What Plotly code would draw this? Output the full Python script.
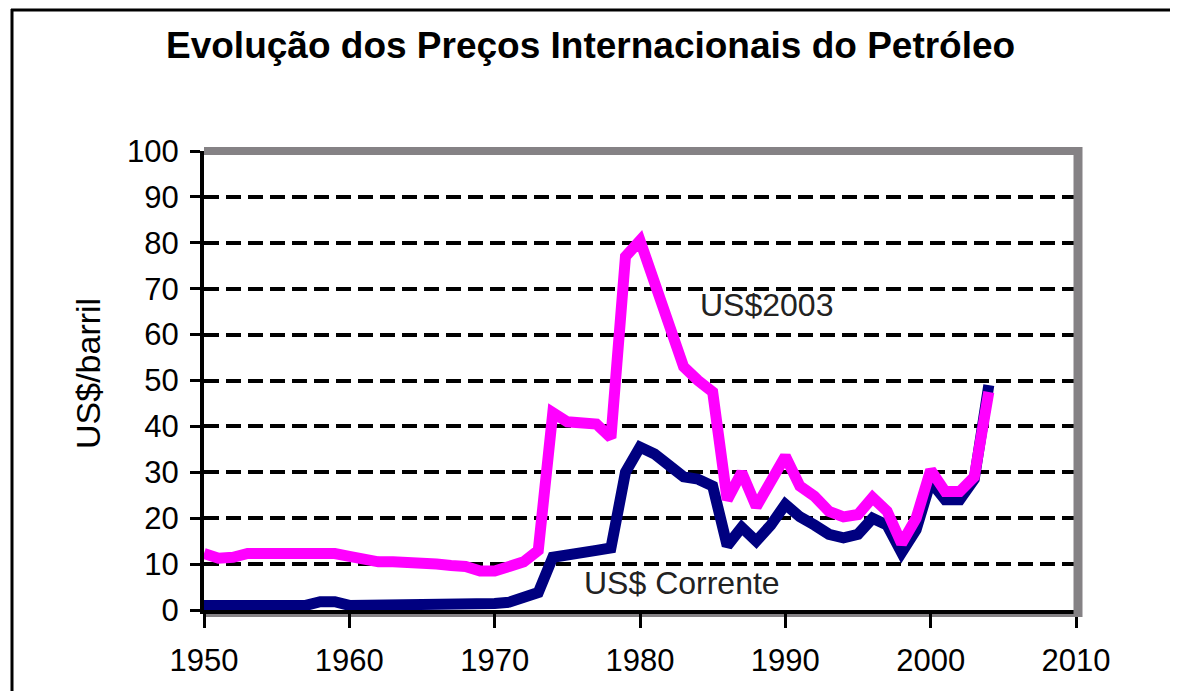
import plotly.graph_objects as go

years = list(range(1950, 2005))

# US$ correntes (nominal)
corrente = [1.0, 1.0, 1.0, 1.0, 1.0, 1.0, 1.0, 1.0, 1.8, 1.8,
            1.0, 1.0, 1.0, 1.0, 1.0, 1.0, 1.0, 1.0, 1.0, 1.0,
            1.4, 1.7, 2.5, 3.8, 11.5, 11.8, 12.5, 13.0, 13.5, 30.0,
            35.5, 34.0, 31.5, 29.0, 28.5, 27.0, 14.0, 18.0, 15.0, 18.5,
            23.0, 20.3, 18.5, 16.5, 15.7, 16.5, 20.0, 18.5, 12.5, 17.5,
            28.0, 24.0, 24.0, 28.5, 49.0]

# US$ de 2003 (real)
real2003 = [12.3, 11.3, 11.5, 12.3, 12.3, 12.3, 12.0, 12.0, 12.5, 12.3,
            11.7, 10.8, 10.5, 10.5, 10.5, 10.3, 10.0, 9.7, 9.5, 8.5,
            8.5, 9.5, 10.5, 13.0, 43.0, 41.0, 40.5, 40.5, 37.5, 77.0,
            80.5, 71.0, 62.0, 53.0, 50.0, 47.5, 24.0, 30.0, 22.5, 28.0,
            33.5, 27.0, 24.8, 21.5, 20.3, 20.8, 24.5, 21.5, 14.5, 20.0,
            30.5, 25.8, 25.8, 29.0, 47.5]

x_ticks = [1950, 1960, 1970, 1980, 1990, 2000, 2010]
y_ticks = list(range(0, 101, 10))

title_text = "Evolução dos Preços Internacionais do Petróleo"
y_title = "US$/barril"
label_real = "US$2003"
label_corrente = "US$ Corrente"

FONT = "Liberation Sans, Arial, sans-serif"

fig = go.Figure()
fig.add_trace(go.Scatter(x=years, y=corrente, mode="lines",
                         line=dict(color="#000080", width=11),
                         name=label_corrente, showlegend=False))
fig.add_trace(go.Scatter(x=years, y=real2003, mode="lines",
                         line=dict(color="#FF00FF", width=11),
                         name=label_real, showlegend=False))

# page has an 8px body margin, so the figure is 8px smaller and offset
fig.update_layout(
    width=1170, height=683,
    margin=dict(l=196, r=102, t=143, b=81),
    paper_bgcolor="white", plot_bgcolor="white",
    font=dict(family=FONT, color="black"),
    showlegend=False,
)

fig.update_xaxes(
    range=[1950, 2010], tickvals=x_ticks, ticktext=[str(v) for v in x_ticks],
    showgrid=False, zeroline=False,
    showline=True, linecolor="black", linewidth=4,
    ticks="outside", ticklen=14, tickwidth=3, tickcolor="black",
    tickfont=dict(size=31, family=FONT, color="black"),
    ticklabelstandoff=6,
)
fig.update_yaxes(
    range=[0, 100], tickvals=y_ticks, ticktext=[str(v) for v in y_ticks],
    showgrid=True, gridcolor="black", gridwidth=3.5, griddash="15px,7px",
    zeroline=False,
    showline=True, linecolor="black", linewidth=4,
    ticks="outside", ticklen=10, tickwidth=3, tickcolor="black",
    tickfont=dict(size=31, family=FONT, color="black"),
    ticklabelstandoff=5,
)

W, H = 872.0, 459.0
def px(x):
    return (x - 204) / W
def py(y):
    return (610 - y) / H

shapes = [
    # gray frame top and right
    dict(type="line", xref="paper", yref="paper", x0=0, x1=px(1082), y0=py(151), y1=py(151),
         line=dict(color="#858285", width=8), layer="above"),
    dict(type="line", xref="paper", yref="paper", x0=px(1078), x1=px(1078), y0=py(147), y1=py(617),
         line=dict(color="#858285", width=9), layer="above"),
    dict(type="line", xref="paper", yref="paper", x0=0, x1=px(1082), y0=py(614), y1=py(614),
         line=dict(color="#858285", width=6), layer="below"),
    # outer black border
    dict(type="line", xref="paper", yref="paper", x0=px(11), x1=px(1200), y0=py(10), y1=py(10),
         line=dict(color="black", width=3), layer="above"),
    dict(type="line", xref="paper", yref="paper", x0=px(12), x1=px(12), y0=py(9), y1=py(700),
         line=dict(color="black", width=3), layer="above"),
]
fig.update_layout(shapes=shapes)

annotations = [
    dict(text="<b>" + title_text + "</b>", xref="paper", yref="paper",
         x=px(590), y=py(45), showarrow=False, xanchor="center", yanchor="middle",
         font=dict(size=37, family=FONT, color="black")),
    dict(text=y_title, xref="paper", yref="paper", x=px(88), y=py(374),
         textangle=-90, showarrow=False, xanchor="center", yanchor="middle",
         font=dict(size=34, family=FONT, color="black")),
    dict(text=label_real, xref="x", yref="y", x=1988.7, y=66.4, showarrow=False,
         xanchor="center", yanchor="middle",
         font=dict(size=32, family=FONT, color="#222")),
    dict(text=label_corrente, xref="x", yref="y", x=1982.9, y=5.9, showarrow=False,
         xanchor="center", yanchor="middle",
         font=dict(size=32, family=FONT, color="#222")),
]
fig.update_layout(annotations=annotations)

fig.write_html("out.html")
